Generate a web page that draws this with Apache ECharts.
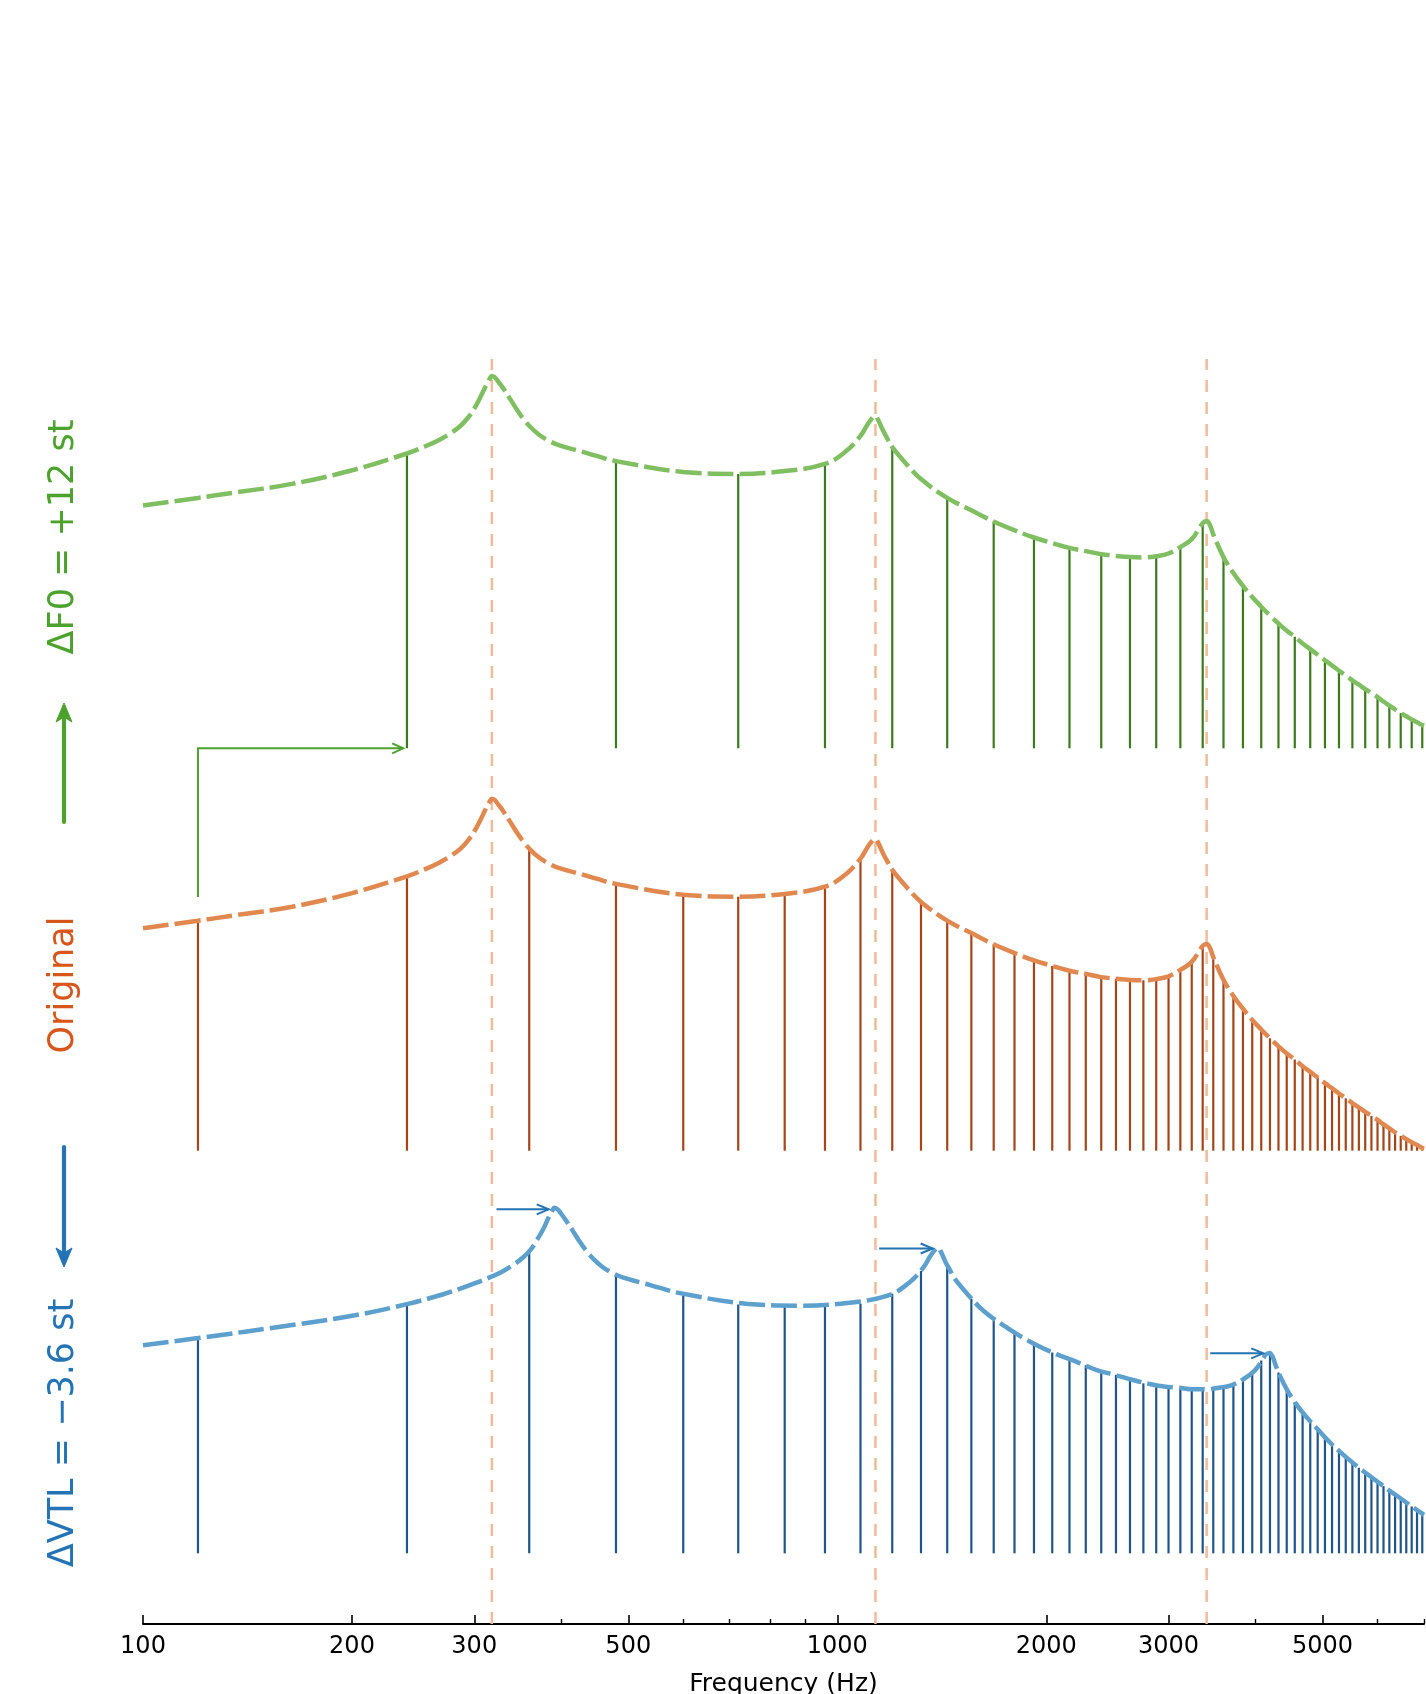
<!DOCTYPE html>
<html>
<head>
<meta charset="utf-8">
<script src="https://cdn.jsdelivr.net/npm/echarts@6/dist/echarts.min.js"></script>
<style>
  html, body { margin: 0; padding: 0; background: #ffffff; }
  #chart { width: 1426px; height: 1694px; }
</style>
</head>
<body>
<div id="chart"></div>
<script>
// ---------------------------------------------------------------
// Source-filter illustration: harmonics (stems) under the spectral
// envelope (dashed) for the original voice, for F0 raised by 12 st
// and for the vocal tract shortened by 3.6 st.
// Levels are relative dB above each panel's baseline.
// ---------------------------------------------------------------

// x axis ticks (Hz)
const MAJOR_TICKS = [100, 200, 300, 500, 1000, 2000, 3000, 5000];
const MINOR_TICKS = [400, 600, 700, 800, 900, 4000, 6000, 7000];

// formant frequencies of the original voice (Hz)
const FORMANTS = [318, 1135, 3404];

// original voice, F0 = 120 Hz: [frequency, level]
const ORIG_HARMONICS = [
  [120, 28.75], [240, 34.3], [360, 37.7], [480, 33.35], [600, 32.0], [720, 31.75], [840, 32.1], [960, 33.0],
  [1080, 36.5], [1200, 35.1], [1320, 31.1], [1440, 28.75], [1560, 27.2], [1680, 25.8], [1800, 24.7], [1920, 23.8],
  [2040, 23.1], [2160, 22.5], [2280, 22.1], [2400, 21.7], [2520, 21.5], [2640, 21.35], [2760, 21.3], [2880, 21.45],
  [3000, 21.8], [3120, 22.6], [3240, 23.6], [3360, 25.6], [3480, 24.2], [3600, 21.35], [3720, 19.35], [3840, 17.75],
  [3960, 16.35], [4080, 15.15], [4200, 14.05], [4320, 13.05], [4440, 12.15], [4560, 11.4], [4680, 10.55], [4800, 9.85],
  [4920, 9.15], [5040, 8.45], [5160, 7.8], [5280, 7.15], [5400, 6.55], [5520, 5.95], [5640, 5.4], [5760, 4.85],
  [5880, 4.35], [6000, 3.85], [6120, 3.3], [6240, 2.8], [6360, 2.3], [6480, 1.85], [6600, 1.45], [6720, 1.05],
  [6840, 0.7], [6960, 0.35]
];

const ORIG_ENVELOPE = [
  [100, 27.8], [120, 28.75], [135, 29.4], [164, 30.5], [200, 32.2], [240, 34.3], [255, 35.2], [267, 36.0],
  [278, 36.9], [287, 37.8], [294, 38.8], [300, 39.9], [306, 41.3], [312, 42.8], [316, 43.7], [318, 44.0],
  [321, 43.85], [324, 43.4], [330, 42.5], [338, 41.1], [346, 39.7], [354, 38.5], [362, 37.55], [372, 36.65],
  [385, 35.85], [400, 35.25], [426, 34.6], [450, 34.0], [480, 33.35],
  [600, 32.0], [720, 31.75], [840, 32.1], [960, 33.0], [1030, 34.6], [1080, 36.5], [1105, 37.9], [1125, 38.8],
  [1135, 39.0], [1145, 38.5], [1155, 37.8], [1165, 37.1], [1180, 36.2], [1200, 35.1], [1260, 32.9], [1320, 31.1],
  [1440, 28.75], [1560, 27.2], [1680, 25.8], [1800, 24.7], [1920, 23.8], [2040, 23.1], [2160, 22.5], [2280, 22.1],
  [2400, 21.7], [2520, 21.5], [2640, 21.35], [2760, 21.3], [2880, 21.45], [3000, 21.8], [3120, 22.6], [3240, 23.6],
  [3360, 25.6], [3404, 25.85], [3440, 25.4], [3480, 24.2], [3600, 21.35], [3720, 19.35], [3840, 17.75], [3960, 16.35],
  [4080, 15.15], [4200, 14.05], [4320, 13.05], [4440, 12.15], [4560, 11.4], [4680, 10.55], [4800, 9.85], [4920, 9.15],
  [5040, 8.45], [5160, 7.8], [5280, 7.15], [5400, 6.55], [5520, 5.95], [5640, 5.4], [5760, 4.85], [5880, 4.35],
  [6000, 3.85], [6120, 3.3], [6240, 2.8], [6360, 2.3], [6480, 1.85], [6600, 1.45], [6720, 1.05], [6840, 0.7],
  [6960, 0.35], [7000, 0.25]
];

// F0 raised by 12 st, F0 = 240 Hz
const F0UP_HARMONICS = [
  [240, 36.85], [480, 35.9], [720, 34.3], [960, 35.55], [1200, 37.65], [1440, 31.3], [1680, 28.35], [1920, 26.35],
  [2160, 25.05], [2400, 24.25], [2640, 23.9], [2880, 24.0], [3120, 25.15], [3360, 28.15], [3600, 23.9], [3840, 20.3],
  [4080, 17.7], [4320, 15.6], [4560, 13.95], [4800, 12.4], [5040, 11.0], [5280, 9.7], [5520, 8.5], [5760, 7.4],
  [6000, 6.4], [6240, 5.35], [6480, 4.4], [6720, 3.6], [6960, 2.9]
];

const F0UP_ENVELOPE = [
  [100, 30.35], [120, 31.3], [135, 31.95], [164, 33.05], [200, 34.75], [240, 36.85], [255, 37.75], [267, 38.55],
  [278, 39.45], [287, 40.35], [294, 41.35], [300, 42.45], [306, 43.85], [312, 45.35], [316, 46.25], [318, 46.55],
  [321, 46.4], [324, 45.95], [330, 45.05], [338, 43.65], [346, 42.25], [354, 41.05], [362, 40.1], [372, 39.2],
  [385, 38.4], [400, 37.8], [426, 37.15], [450, 36.55], [480, 35.9],
  [600, 34.55], [720, 34.3], [840, 34.65], [960, 35.55], [1030, 37.15], [1080, 39.05], [1105, 40.45], [1125, 41.35],
  [1135, 41.55], [1145, 41.05], [1155, 40.35], [1165, 39.65], [1180, 38.75], [1200, 37.65], [1260, 35.45], [1320, 33.65],
  [1440, 31.3], [1560, 29.75], [1680, 28.35], [1800, 27.25], [1920, 26.35], [2040, 25.65], [2160, 25.05], [2280, 24.65],
  [2400, 24.25], [2520, 24.05], [2640, 23.9], [2760, 23.85], [2880, 24.0], [3000, 24.35], [3120, 25.15], [3240, 26.15],
  [3360, 28.15], [3404, 28.4], [3440, 27.95], [3480, 26.75], [3600, 23.9], [3720, 21.9], [3840, 20.3], [3960, 18.9],
  [4080, 17.7], [4200, 16.6], [4320, 15.6], [4440, 14.7], [4560, 13.95], [4680, 13.1], [4800, 12.4], [4920, 11.7],
  [5040, 11.0], [5160, 10.35], [5280, 9.7], [5400, 9.1], [5520, 8.5], [5640, 7.95], [5760, 7.4], [5880, 6.9],
  [6000, 6.4], [6120, 5.85], [6240, 5.35], [6360, 4.85], [6480, 4.4], [6600, 4.0], [6720, 3.6], [6840, 3.25],
  [6960, 2.9], [7000, 2.8]
];

// vocal tract shortened by 3.6 st, F0 = 120 Hz
const VTL_HARMONICS = [
  [120, 26.9], [240, 31.15], [360, 37.85], [480, 34.85], [600, 32.2], [720, 31.1], [840, 30.9], [960, 30.9],
  [1080, 31.2], [1200, 32.45], [1320, 35.3], [1440, 36.0], [1560, 31.8], [1680, 29.1], [1800, 27.4], [1920, 26.2],
  [2040, 25.1], [2160, 24.2], [2280, 23.5], [2400, 22.7], [2520, 22.3], [2640, 21.7], [2760, 21.25], [2880, 20.95],
  [3000, 20.75], [3120, 20.7], [3240, 20.5], [3360, 20.5], [3480, 20.6], [3600, 20.8], [3720, 21.05], [3840, 21.75],
  [3960, 22.6], [4080, 24.1], [4200, 24.95], [4320, 22.6], [4440, 20.5], [4560, 18.9], [4680, 17.6], [4800, 16.5],
  [4920, 15.5], [5040, 14.5], [5160, 13.6], [5280, 12.8], [5400, 12.05], [5520, 11.35], [5640, 10.7], [5760, 10.1],
  [5880, 9.5], [6000, 8.95], [6120, 8.4], [6240, 7.85], [6360, 7.35], [6480, 6.85], [6600, 6.35], [6720, 5.85],
  [6840, 5.4], [6960, 4.95]
];

const VTL_ENVELOPE = [
  [100, 26.0], [120, 26.9], [166, 28.6], [202, 29.75], [240, 31.15], [270, 32.35], [295, 33.5], [314, 34.4],
  [329, 35.2], [342, 36.1], [353, 37.0], [362, 38.0], [369, 39.1], [377, 40.5], [384, 42.0], [389, 42.9],
  [391, 43.2], [395, 43.05], [399, 42.6], [406, 41.7], [416, 40.3], [426, 38.9], [436, 37.7], [446, 36.75],
  [458, 35.85], [474, 35.05], [492, 34.45], [524, 33.8], [554, 33.2], [591, 32.55],
  [739, 31.2], [886, 30.95], [1034, 31.3], [1182, 32.2], [1268, 33.8], [1330, 35.7], [1360, 37.1], [1385, 38.0],
  [1397, 38.2], [1410, 37.7], [1422, 37.0], [1434, 36.3], [1453, 35.4], [1477, 34.3], [1551, 32.1], [1625, 30.3],
  [1773, 27.95], [1920, 26.2], [2068, 24.9], [2216, 23.9], [2364, 22.9], [2511, 22.3], [2659, 21.7], [2807, 21.2],
  [2955, 20.85], [3102, 20.7], [3250, 20.5], [3398, 20.5], [3546, 20.7], [3693, 21.0], [3841, 21.75], [3989, 22.8],
  [4112, 24.4], [4137, 24.8], [4191, 25.05], [4235, 24.6], [4284, 23.4], [4320, 22.6], [4440, 20.5], [4560, 18.9],
  [4680, 17.6], [4800, 16.5], [4920, 15.5], [5040, 14.5], [5160, 13.6], [5280, 12.8], [5400, 12.05], [5520, 11.35],
  [5640, 10.7], [5760, 10.1], [5880, 9.5], [6000, 8.95], [6120, 8.4], [6240, 7.85], [6360, 7.35], [6480, 6.85],
  [6600, 6.35], [6720, 5.85], [6840, 5.4], [6960, 4.95], [7000, 4.8]
];

// formant shifts of the shortened tract: [from Hz, to Hz, level]
const VTL_SHIFTS = [
  [323, 384, 43.0],
  [1149, 1372, 38.1],
  [3445, 4107, 25.0]
];

// F0 shift: [from Hz, to Hz, start level, end level] in the upper panel
const F0_SHIFT = [[120, 237, -18.6, 0]];

// ---------------------------------------------------------------
const FONT = '"DejaVu Sans", "Liberation Sans", sans-serif';
const C = {
  green:   { text: '#4ca22c', stem: '#3c7a1e', env: '#80be62' },
  orange:  { text: '#d8561b', stem: '#a3461a', env: '#e0884f' },
  blue:    { text: '#2473b4', stem: '#20558a', env: '#5d9fcd' },
  formant: '#f1bb9c'
};

function stemRenderer(color) {
  return function (params, api) {
    const f = api.value(0);
    const p0 = api.coord([f, 0]);
    const p1 = api.coord([f, api.value(1)]);
    return {
      type: 'line',
      shape: { x1: p0[0], y1: p0[1], x2: p1[0], y2: p1[1] },
      style: { stroke: color, lineWidth: 2.2 }
    };
  };
}

function arrowShape(pts, color, width, headLen, headHalf) {
  const tip = pts[pts.length - 1], prev = pts[pts.length - 2];
  const dx = tip[0] - prev[0], dy = tip[1] - prev[1];
  const len = Math.hypot(dx, dy) || 1;
  const ux = dx / len, uy = dy / len;
  const bx = tip[0] - ux * headLen, by = tip[1] - uy * headLen;
  const head = [[bx - uy * headHalf, by + ux * headHalf], tip, [bx + uy * headHalf, by - ux * headHalf]];
  return {
    type: 'group',
    children: [
      { type: 'polyline', shape: { points: pts }, style: { stroke: color, lineWidth: width, fill: null } },
      { type: 'polyline', shape: { points: head }, style: { stroke: color, lineWidth: width, fill: null } }
    ]
  };
}

const LEFT = 143, RIGHT = 2;
const logX = (gridIndex, show) => ({
  type: 'log', logBase: 10, min: 100, max: 7000, gridIndex: gridIndex, show: show
});

const xAxes = [
  Object.assign(logX(0, true), {
    position: 'bottom',
    axisLine: { show: true, lineStyle: { color: '#000', width: 2 } },
    axisTick: { show: true, inside: true, length: 9, customValues: MAJOR_TICKS, lineStyle: { color: '#000', width: 1.6 } },
    axisLabel: {
      show: true, customValues: MAJOR_TICKS, margin: 11, color: '#000', fontSize: 24, fontFamily: FONT,
      formatter: v => String(Math.round(v))
    },
    splitLine: { show: false },
    name: 'Frequency (Hz)', nameLocation: 'middle', nameGap: 48,
    nameTextStyle: { color: '#000', fontSize: 25, fontFamily: FONT }
  }),
  Object.assign(logX(0, true), {
    position: 'bottom',
    axisLine: { show: false },
    axisTick: { show: true, inside: true, length: 5, customValues: MINOR_TICKS, lineStyle: { color: '#000', width: 1.4 } },
    axisLabel: { show: false },
    splitLine: { show: false }
  }),
  logX(1, false), logX(2, false), logX(3, false)
];

const yAxes = [
  { type: 'value', gridIndex: 0, min: 0, max: 1, show: false },
  { type: 'value', gridIndex: 1, min: 0, max: 50, show: false },
  { type: 'value', gridIndex: 2, min: 0, max: 50, show: false },
  { type: 'value', gridIndex: 3, min: 0, max: 50, show: false }
];

const grids = [
  { left: LEFT, right: RIGHT, top: 359, bottom: 70, outerBoundsMode: 'none', containLabel: false },
  { left: LEFT, right: RIGHT, bottom: 945.7, height: 400, outerBoundsMode: 'none', containLabel: false },
  { left: LEFT, right: RIGHT, bottom: 543.3, height: 400, outerBoundsMode: 'none', containLabel: false },
  { left: LEFT, right: RIGHT, bottom: 140.7, height: 400, outerBoundsMode: 'none', containLabel: false }
];

const panels = [
  { idx: 1, harm: F0UP_HARMONICS, env: F0UP_ENVELOPE, col: C.green },
  { idx: 2, harm: ORIG_HARMONICS, env: ORIG_ENVELOPE, col: C.orange },
  { idx: 3, harm: VTL_HARMONICS, env: VTL_ENVELOPE, col: C.blue }
];

const series = [];

// formant markers across the whole plot height
series.push({
  type: 'custom', xAxisIndex: 0, yAxisIndex: 0, z: 1, clip: false, silent: true,
  data: FORMANTS.map(f => [f, 0]),
  encode: { x: 0, y: 1 },
  renderItem: function (params, api) {
    const f = api.value(0);
    const p0 = api.coord([f, 0]);
    const p1 = api.coord([f, 1]);
    return {
      type: 'line',
      shape: { x1: p0[0], y1: p0[1], x2: p1[0], y2: p1[1] },
      style: { stroke: C.formant, lineWidth: 2.5, lineDash: [12, 10] }
    };
  }
});

panels.forEach(p => {
  series.push({
    type: 'custom', xAxisIndex: p.idx + 1, yAxisIndex: p.idx, z: 2, clip: false, silent: true,
    data: p.harm, encode: { x: 0, y: 1 },
    renderItem: stemRenderer(p.col.stem)
  });
  series.push({
    type: 'line', xAxisIndex: p.idx + 1, yAxisIndex: p.idx, z: 3, silent: true,
    data: p.env, showSymbol: false, symbol: 'none', smooth: 0.4, clip: true,
    lineStyle: { color: p.col.env, width: 4.5, type: [26, 6], cap: 'butt' }
  });
});

// F0 shift arrow (original F0 -> new F0)
series.push({
  type: 'custom', xAxisIndex: 2, yAxisIndex: 1, z: 4, clip: false, silent: true,
  data: F0_SHIFT, encode: { x: [0, 1], y: [2, 3] },
  renderItem: function (params, api) {
    const a = api.coord([api.value(0), api.value(2)]);
    const b = api.coord([api.value(0), api.value(3)]);
    const c = api.coord([api.value(1), api.value(3)]);
    return arrowShape([a, b, c], C.green.text, 2, 11, 5);
  }
});

// formant shift arrows (original formant -> shifted formant)
series.push({
  type: 'custom', xAxisIndex: 4, yAxisIndex: 3, z: 4, clip: false, silent: true,
  data: VTL_SHIFTS, encode: { x: [0, 1], y: 2 },
  renderItem: function (params, api) {
    const a = api.coord([api.value(0), api.value(2)]);
    const b = api.coord([api.value(1), api.value(2)]);
    return arrowShape([a, b], C.blue.text, 2, 12, 5);
  }
});

// side labels and direction arrows
function sideText(text, y, color) {
  return {
    type: 'text', x: 64, y: y, rotation: Math.PI / 2, z: 10,
    style: {
      text: text, fill: color, font: '35px ' + FONT,
      align: 'center', verticalAlign: 'middle', textAlign: 'center', textVerticalAlign: 'middle'
    }
  };
}
function bigArrow(x, yTail, yTip, color) {
  const dir = yTip < yTail ? -1 : 1;
  return [
    { type: 'line', z: 10, shape: { x1: x, y1: yTail, x2: x, y2: yTip - dir * 9 },
      style: { stroke: color, lineWidth: 4.2, lineCap: 'round' } },
    { type: 'polygon', z: 10, shape: { points: [
        [x, yTip], [x - 8, yTip - dir * 19], [x, yTip - dir * 14], [x + 8, yTip - dir * 19]] },
      style: { fill: color, stroke: color, lineWidth: 1, lineJoin: 'round' } }
  ];
}

const graphics = [
  sideText('\u0394F0 = +12 st', 537, C.green.text),
  sideText('Original', 985, C.orange.text),
  sideText('\u0394VTL = \u22123.6 st', 1433, C.blue.text)
].concat(bigArrow(64, 822, 703, C.green.text), bigArrow(64, 1147, 1267, C.blue.text));

const chart = echarts.init(document.getElementById('chart'), null, { renderer: 'canvas' });
chart.setOption({
  animation: false,
  backgroundColor: '#ffffff',
  grid: grids,
  xAxis: xAxes,
  yAxis: yAxes,
  series: series,
  graphic: { elements: graphics }
});
</script>
</body>
</html>
